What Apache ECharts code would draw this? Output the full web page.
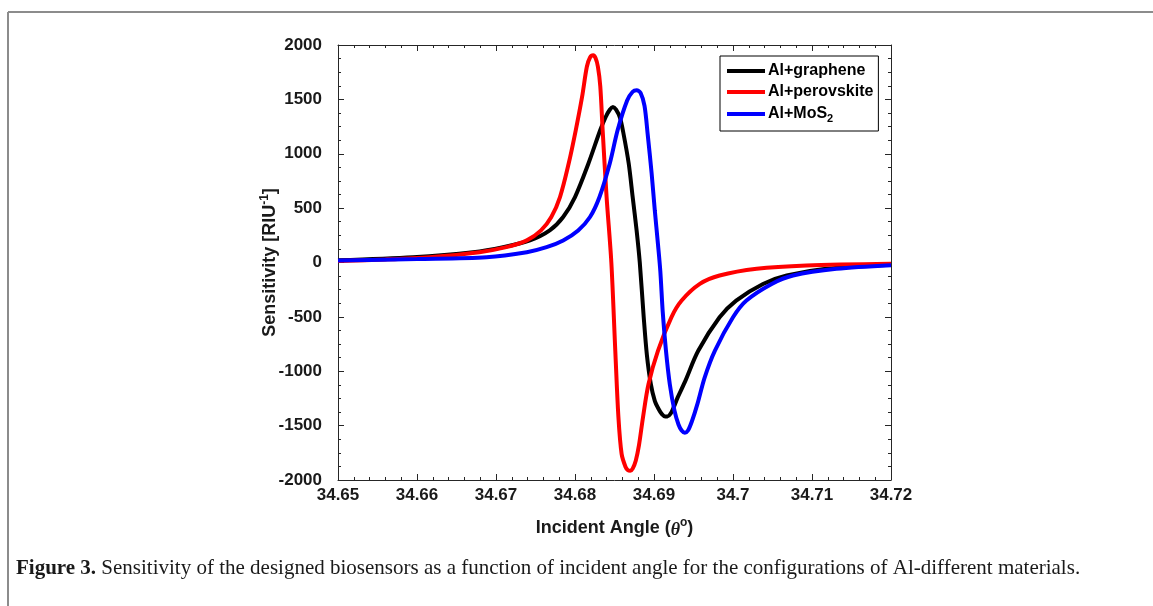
<!DOCTYPE html>
<html>
<head>
<meta charset="utf-8">
<script src="https://cdn.jsdelivr.net/npm/echarts@6/dist/echarts.min.js"></script>
<style>
html,body{margin:0;padding:0;background:#fff;}
#chart{width:1153px;height:606px;}
</style>
</head>
<body>
<div id="chart"></div>
<script>
// ---- data ----
const seriesNames = ['Al+graphene', 'Al+perovskite', 'Al+MoS2'];
const xTicks = [34.65, 34.66, 34.67, 34.68, 34.69, 34.7, 34.71, 34.72];
const yTicks = [-2000, -1500, -1000, -500, 0, 500, 1000, 1500, 2000];

const grapheneX = [34.650, 34.6595, 34.6671, 34.6709, 34.6743, 34.6768, 34.6785, 34.6800, 34.6817, 34.6832, 34.6839, 34.6844, 34.6848, 34.6852, 34.6857, 34.6861, 34.6868, 34.6873, 34.6878, 34.6882, 34.6887, 34.6891, 34.6896, 34.6901, 34.6906, 34.6910, 34.6914, 34.6917, 34.6921, 34.6925, 34.6930, 34.6939, 34.6956, 34.6983, 34.7004, 34.7038, 34.7068, 34.7118, 34.7200];
const grapheneY = [20, 49, 95, 141, 203, 295, 418, 602, 910, 1218, 1340, 1405, 1430, 1405, 1330, 1200, 910, 602, 295, 0, -504, -850, -1119, -1273, -1350, -1395, -1415, -1415, -1390, -1330, -1240, -1100, -812, -504, -350, -197, -120, -58, -20];

const perovskiteX = [34.650, 34.656, 34.6616, 34.6679, 34.6713, 34.6739, 34.6757, 34.6770, 34.6781, 34.6792, 34.6801, 34.6809, 34.6815, 34.6819, 34.6823, 34.6826, 34.6829, 34.6832, 34.6835, 34.6840, 34.6846, 34.6851, 34.6855, 34.6859, 34.6864, 34.6867, 34.6870, 34.6873, 34.6877, 34.6881, 34.6886, 34.6893, 34.6905, 34.6922, 34.6935, 34.6958, 34.6983, 34.7030, 34.7093, 34.7200];
const perovskiteY = [14, 28, 49, 95, 141, 203, 295, 418, 602, 910, 1218, 1525, 1800, 1885, 1905, 1880, 1800, 1620, 1218, 602, 0, -812, -1427, -1760, -1880, -1910, -1915, -1895, -1820, -1680, -1427, -1119, -812, -504, -350, -197, -120, -58, -28, -12];

const mos2X = [34.650, 34.660, 34.6688, 34.6739, 34.6764, 34.6785, 34.6804, 34.6819, 34.6831, 34.6844, 34.6854, 34.6866, 34.6873, 34.6878, 34.6883, 34.6888, 34.6892, 34.6897, 34.6901, 34.6905, 34.6908, 34.6911, 34.6915, 34.6920, 34.6926, 34.6931, 34.6935, 34.6939, 34.6943, 34.6948, 34.6955, 34.6964, 34.6977, 34.7000, 34.7017, 34.7049, 34.7076, 34.7131, 34.7200];
const mos2Y = [18, 32, 49, 95, 141, 203, 295, 418, 602, 910, 1218, 1490, 1570, 1585, 1560, 1440, 1180, 820, 480, 170, -80, -450, -800, -1119, -1365, -1490, -1545, -1565, -1545, -1460, -1300, -1060, -812, -504, -350, -197, -120, -58, -25];

function pairs(xs, ys) { return xs.map((x, i) => [x, ys[i]]); }

const chart = echarts.init(document.getElementById('chart'));
const axisColor = '#262626';
const labelFont = {fontFamily: 'Liberation Sans, Arial, sans-serif', fontWeight: 'bold', fontSize: 17, color: '#1a1a1a'};
const titleFont = {fontFamily: 'Liberation Sans, Arial, sans-serif', fontWeight: 'bold', fontSize: 18, color: '#1a1a1a'};
const xMin = xTicks[0], xMax = xTicks[xTicks.length - 1];
const yMin = yTicks[0], yMax = yTicks[yTicks.length - 1];

function xAx(pos, show) {
  return {
    type: 'value', position: pos, min: xMin, max: xMax, interval: 0.01,
    axisLine: {show: true, onZero: false, lineStyle: {color: axisColor, width: 1}},
    axisTick: {show: true, inside: true, length: 6, lineStyle: {color: axisColor}},
    minorTick: {show: true, splitNumber: 5, length: 3, lineStyle: {color: axisColor}},
    splitLine: {show: false},
    axisLabel: Object.assign({show: show, margin: 7, formatter: v => String(+v.toFixed(2))}, labelFont),
    name: show ? 'Incident Angle ({it|θ}{sup|o})' : '',
    nameLocation: 'middle', nameGap: 37,
    nameTextStyle: Object.assign({}, titleFont, {
      rich: {
        it: {fontFamily: 'Liberation Serif, serif', fontStyle: 'italic', fontSize: 18, color: '#1a1a1a', lineHeight: 22, verticalAlign: 'bottom'},
        sup: {fontFamily: 'Liberation Sans', fontWeight: 'bold', fontSize: 12, color: '#1a1a1a', lineHeight: 22, verticalAlign: 'top'}
      }
    })
  };
}
function yAx(pos, show) {
  return {
    type: 'value', position: pos, min: yMin, max: yMax, interval: 500,
    axisLine: {show: true, onZero: false, lineStyle: {color: axisColor, width: 1}},
    axisTick: {show: true, inside: true, length: 6, lineStyle: {color: axisColor}},
    minorTick: {show: true, splitNumber: 4, length: 3, lineStyle: {color: axisColor}},
    splitLine: {show: false},
    axisLabel: Object.assign({show: show, margin: 16, formatter: v => String(v)}, labelFont),
    name: show ? 'Sensitivity [RIU{sup|-1}]' : '',
    nameLocation: 'middle', nameGap: 57, nameRotate: 90, nameMoveOverlap: false,
    nameTextStyle: Object.assign({}, titleFont, {
      rich: {
        sup: {fontFamily: 'Liberation Sans', fontWeight: 'bold', fontSize: 12, color: '#1a1a1a', lineHeight: 22, verticalAlign: 'top'}
      }
    })
  };
}

const colors = ['#000000', '#ff0000', '#0000ff'];
const datas = [pairs(grapheneX, grapheneY), pairs(perovskiteX, perovskiteY), pairs(mos2X, mos2Y)];

chart.setOption({
  animation: false,
  backgroundColor: '#ffffff',
  grid: {left: 338, right: 262, top: 45, bottom: 126, containLabel: false},
  xAxis: [xAx('bottom', true), xAx('top', false)],
  yAxis: [yAx('left', true), yAx('right', false)],
  legend: {
    left: 720, top: 56,
    orient: 'vertical',
    backgroundColor: '#ffffff',
    borderColor: '#000000', borderWidth: 1,
    padding: [6, 5, 7, 7],
    icon: 'rect',
    itemWidth: 38, itemHeight: 4, itemGap: 3,
    data: seriesNames,
    formatter: function (n) { return n === 'Al+MoS2' ? 'Al+MoS{sub|2}' : n; },
    textStyle: {
      fontFamily: 'Liberation Sans, Arial, sans-serif', fontWeight: 'bold', fontSize: 16, color: '#000',
      lineHeight: 18,
      padding: [0, 0, 0, -2],
      rich: {sub: {fontFamily: 'Liberation Sans', fontWeight: 'bold', fontSize: 11, color: '#000', lineHeight: 18, padding: [9, 0, 0, 0]}}
    }
  },
  series: [0, 1, 2].map(i => ({
    name: seriesNames[i],
    type: 'line',
    data: datas[i],
    showSymbol: false, symbol: 'none',
    smooth: 0.3,
    lineStyle: {color: colors[i], width: 4},
    itemStyle: {color: colors[i]},
    z: 2 + i
  })),
  graphic: [
    {type: 'line', shape: {x1: 8, y1: 12, x2: 1153, y2: 12}, style: {stroke: '#8c8c8c', lineWidth: 2}},
    {type: 'line', shape: {x1: 8, y1: 12, x2: 8, y2: 606}, style: {stroke: '#8c8c8c', lineWidth: 2}},
    {type: 'text', left: 16, top: 558,
      style: {
        text: '{b|Figure 3.} Sensitivity of the designed biosensors as a function of incident angle for the configurations of Al-different materials.',
        font: '21px "Liberation Serif", serif', fill: '#1a1a1a',
        rich: {b: {fontFamily: 'Liberation Serif', fontWeight: 'bold', fontSize: 21, fill: '#1a1a1a'}}
      }}
  ]
});
</script>
</body>
</html>
